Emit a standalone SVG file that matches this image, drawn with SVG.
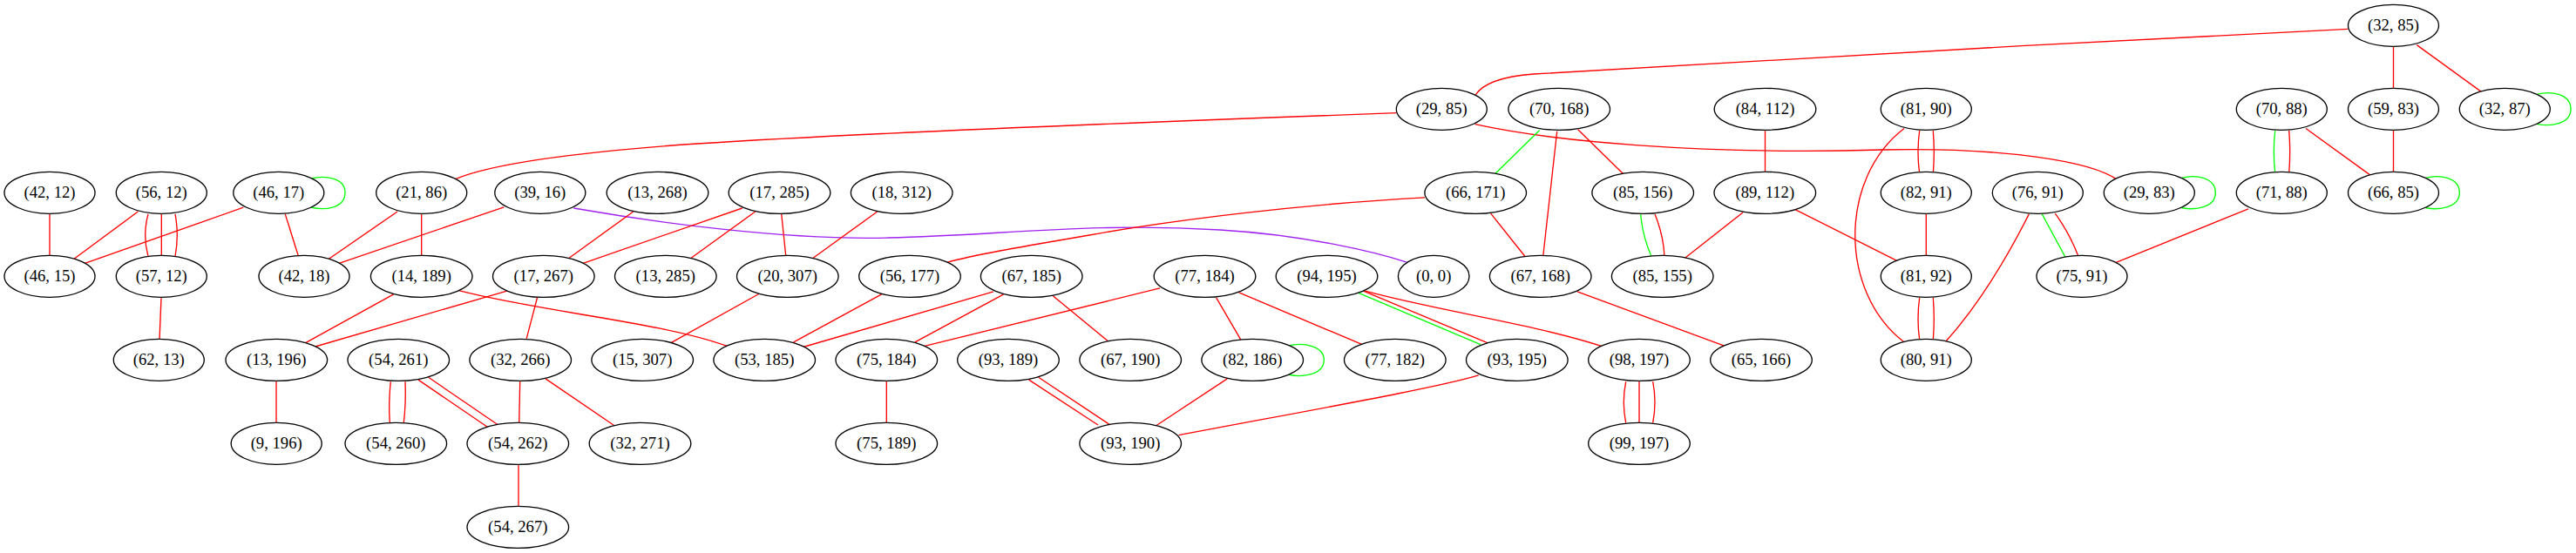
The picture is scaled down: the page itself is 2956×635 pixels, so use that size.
<svg xmlns="http://www.w3.org/2000/svg" width="2956" height="635" viewBox="0 0 2956 635">
<style>
.e path{fill:none;stroke-width:1.33}
.r{stroke:#ff0000}
.g{stroke:#00ff00}
.p{stroke:#a020f0}
.n ellipse{fill:#ffffff;stroke:#000000;stroke-width:1.33}
.n text{font-family:"Liberation Serif","Times New Roman",serif;font-size:18.67px;text-anchor:middle;fill:#000000}
</style>
<rect width="2956" height="635" fill="#ffffff"/>
<g id="edges" class="e">
<path class="r" d="M2694.3,33.4 C2400,48 1950,72 1760,85 C1720,88 1700,98 1692.7,109.5"/>
<path class="r" d="M2746.5,53.3 L2746.5,101.3"/>
<path class="r" d="M2773.3,51.6 L2847.3,105.4"/>
<path class="g" d="M2910.7,108.3 C2928,104 2950,108 2950,125.3 C2950,142 2928,146 2910.7,142.3"/>
<path class="r" d="M1602.3,129.7 C1400,137 1000,152 800,165 C650,175 560,190 523.3,205.4"/>
<path class="r" d="M1692.7,142.7 C1780,162 1950,178 2160,172 C2300,169 2400,185 2430,206.6"/>
<path class="g" d="M1766.7,149.6 L1715,200.2"/>
<path class="r" d="M1786.7,150.8 L1770.7,294.5"/>
<path class="r" d="M1810.7,148.7 L1863.3,200.2"/>
<path class="r" d="M2025.5,150 L2025.5,199.3"/>
<path class="r" d="M2202.7,150 Q2199.3,174.7 2202.7,199.3"/>
<path class="r" d="M2218.3,150 Q2220.3,174.7 2218.3,199.3"/>
<path class="r" d="M2185,147.5 C2110,205 2110,335 2185,392.8"/>
<path class="g" d="M2610.7,150 Q2607.9,174.3 2610.7,198.5"/>
<path class="r" d="M2626.7,150 Q2628.7,174.3 2626.7,198.5"/>
<path class="r" d="M2646,147.5 L2719.3,200.6"/>
<path class="r" d="M2746.5,149.3 L2746.5,197.3"/>
<path class="g" d="M2783.3,204.5 C2800,200 2822.3,204 2822.3,221.3 C2822.3,238 2800,242 2783.3,238.5"/>
<path class="g" d="M2503.3,204.5 C2520,200 2542.3,204 2542.3,221.3 C2542.3,238 2520,242 2503.3,238.5"/>
<path class="r" d="M456,243 L376.7,297.7"/>
<path class="r" d="M483.7,245.3 L483.7,293.3"/>
<path class="r" d="M578.3,237.8 L388.3,302.6"/>
<path class="p" d="M658.3,239 C750,255 900,276 1020,273 C1150,270 1250,255 1400,264 C1500,270 1580,290 1615,301.3"/>
<path class="r" d="M726.7,243 L651.7,297.3"/>
<path class="r" d="M851.7,239 L668.3,302.6"/>
<path class="r" d="M866.7,243 L791.7,297.3"/>
<path class="r" d="M896.7,245.3 L901.7,293.3"/>
<path class="r" d="M1006.7,243 L931.7,297.3"/>
<path class="r" d="M1635,226.9 C1500,234 1350,252 1250,270 C1180,282 1120,292 1086.7,301.3"/>
<path class="r" d="M1710.7,245.1 L1750,294.5"/>
<path class="g" d="M1882.7,245.9 Q1884.6,270.2 1895,294.5"/>
<path class="r" d="M1899,245.9 Q1908.9,270.2 1910,294.5"/>
<path class="r" d="M2000,243.9 L1933.3,296.5"/>
<path class="r" d="M2060,240.6 L2176.7,299.3"/>
<path class="r" d="M2210.3,245.3 L2210.3,293.3"/>
<path class="g" d="M2343.3,245.9 L2370,295.3"/>
<path class="r" d="M2358.3,245.1 Q2375,268 2385,294.5"/>
<path class="r" d="M2328.3,245.9 C2305,292 2275,345 2232.3,392.8"/>
<path class="r" d="M2580,239.8 L2428.3,301.3"/>
<path class="r" d="M57,245.3 L57,293.3"/>
<path class="r" d="M158.3,243 L85,297.3"/>
<path class="r" d="M185.3,245.3 L185.3,293.3"/>
<path class="r" d="M170,245.9 Q163.4,270 170,294.5"/>
<path class="r" d="M201,245.9 Q205.6,270 201,294.5"/>
<path class="r" d="M279.3,238.2 L96.7,302.6"/>
<path class="r" d="M327.3,245.9 L342.3,293.7"/>
<path class="g" d="M356.7,205 C373,201 396,204 396,221.3 C396,239 373,242 356.7,238"/>
<path class="r" d="M451.7,337.8 L350.7,393.6"/>
<path class="r" d="M526.7,333.7 C620,358 760,370 835,397.7"/>
<path class="r" d="M581.7,334.1 L360,398.5"/>
<path class="r" d="M616.7,341 L604,389.6"/>
<path class="r" d="M871.7,337 L770,393.6"/>
<path class="r" d="M1011.7,337.8 L910.7,392.8"/>
<path class="r" d="M1140,334.9 L921.7,398.5"/>
<path class="r" d="M1151.7,337.8 L1050,392.8"/>
<path class="r" d="M1208.3,339.8 L1272.7,392.8"/>
<path class="r" d="M1331,330.9 L1060,397.7"/>
<path class="r" d="M1395.7,341.8 L1424,390.4"/>
<path class="r" d="M1421.7,335.8 L1563.3,395.7"/>
<path class="g" d="M1558.3,336.2 L1699,395.7"/>
<path class="r" d="M1563.3,333.7 L1706.7,393.6"/>
<path class="r" d="M1565,333.7 C1640,355 1760,372 1838.3,397.7"/>
<path class="r" d="M1810,334.9 L1980,397.7"/>
<path class="r" d="M2202.7,341.8 Q2199.3,366 2202.7,390.4"/>
<path class="r" d="M2218.3,341.8 Q2220.3,366 2218.3,390.4"/>
<path class="r" d="M185,342.2 L183,390.4"/>
<path class="r" d="M317,437.3 L317,485.3"/>
<path class="r" d="M448.3,438.2 Q445.7,462 447.3,485.5"/>
<path class="r" d="M465,438.2 Q466,462 463.3,485.5"/>
<path class="r" d="M480,436.1 L560,490.8"/>
<path class="r" d="M491.7,433.3 L571.7,488"/>
<path class="r" d="M596.7,437.3 L595.7,485.3"/>
<path class="r" d="M626,434.9 L705,488.8"/>
<path class="r" d="M1017.3,437.3 L1017.3,485.3"/>
<path class="r" d="M1180.7,436.1 L1260,488"/>
<path class="r" d="M1191.7,433.3 L1274,488"/>
<path class="r" d="M1408.3,434.9 L1326.7,488.8"/>
<path class="g" d="M1478,397 C1496,393 1519.3,397 1519.3,413.3 C1519.3,430 1496,434 1478,430"/>
<path class="r" d="M1696.7,430.9 C1650,445 1520,468 1352.7,499.7"/>
<path class="r" d="M595,533.3 L595,581.3"/>
<path class="r" d="M1881,437.3 L1881,485.3"/>
<path class="r" d="M1865.7,438.2 Q1860.9,462 1865.7,485.5"/>
<path class="r" d="M1896.7,438.2 Q1901.3,462 1896.7,485.5"/>
</g>
<g id="n_32_85" class="n"><ellipse cx="2746.5" cy="29.3" rx="52" ry="24"/><text x="2746.5" y="35.3">(32, 85)</text></g>
<g id="n_29_85" class="n"><ellipse cx="1654.3" cy="125.3" rx="52" ry="24"/><text x="1654.3" y="131.3">(29, 85)</text></g>
<g id="n_70_168" class="n"><ellipse cx="1789.2" cy="125.3" rx="58.3" ry="24"/><text x="1789.2" y="131.3">(70, 168)</text></g>
<g id="n_84_112" class="n"><ellipse cx="2025.5" cy="125.3" rx="58.3" ry="24"/><text x="2025.5" y="131.3">(84, 112)</text></g>
<g id="n_81_90" class="n"><ellipse cx="2210.3" cy="125.3" rx="52" ry="24"/><text x="2210.3" y="131.3">(81, 90)</text></g>
<g id="n_70_88" class="n"><ellipse cx="2618.3" cy="125.3" rx="52" ry="24"/><text x="2618.3" y="131.3">(70, 88)</text></g>
<g id="n_59_83" class="n"><ellipse cx="2746.5" cy="125.3" rx="52" ry="24"/><text x="2746.5" y="131.3">(59, 83)</text></g>
<g id="n_32_87" class="n"><ellipse cx="2874.3" cy="125.3" rx="52" ry="24"/><text x="2874.3" y="131.3">(32, 87)</text></g>
<g id="n_42_12" class="n"><ellipse cx="57" cy="221.3" rx="52" ry="24"/><text x="57" y="227.3">(42, 12)</text></g>
<g id="n_56_12" class="n"><ellipse cx="185.3" cy="221.3" rx="52" ry="24"/><text x="185.3" y="227.3">(56, 12)</text></g>
<g id="n_46_17" class="n"><ellipse cx="319.8" cy="221.3" rx="52" ry="24"/><text x="319.8" y="227.3">(46, 17)</text></g>
<g id="n_21_86" class="n"><ellipse cx="483.7" cy="221.3" rx="52" ry="24"/><text x="483.7" y="227.3">(21, 86)</text></g>
<g id="n_39_16" class="n"><ellipse cx="619.8" cy="221.3" rx="52" ry="24"/><text x="619.8" y="227.3">(39, 16)</text></g>
<g id="n_13_268" class="n"><ellipse cx="754.5" cy="221.3" rx="58.3" ry="24"/><text x="754.5" y="227.3">(13, 268)</text></g>
<g id="n_17_285" class="n"><ellipse cx="894.5" cy="221.3" rx="58.3" ry="24"/><text x="894.5" y="227.3">(17, 285)</text></g>
<g id="n_18_312" class="n"><ellipse cx="1034.7" cy="221.3" rx="58.3" ry="24"/><text x="1034.7" y="227.3">(18, 312)</text></g>
<g id="n_66_171" class="n"><ellipse cx="1693.2" cy="221.3" rx="58.3" ry="24"/><text x="1693.2" y="227.3">(66, 171)</text></g>
<g id="n_85_156" class="n"><ellipse cx="1885.2" cy="221.3" rx="58.3" ry="24"/><text x="1885.2" y="227.3">(85, 156)</text></g>
<g id="n_89_112" class="n"><ellipse cx="2025.3" cy="221.3" rx="58.3" ry="24"/><text x="2025.3" y="227.3">(89, 112)</text></g>
<g id="n_82_91" class="n"><ellipse cx="2210.3" cy="221.3" rx="52" ry="24"/><text x="2210.3" y="227.3">(82, 91)</text></g>
<g id="n_76_91" class="n"><ellipse cx="2338.3" cy="221.3" rx="52" ry="24"/><text x="2338.3" y="227.3">(76, 91)</text></g>
<g id="n_29_83" class="n"><ellipse cx="2466.3" cy="221.3" rx="52" ry="24"/><text x="2466.3" y="227.3">(29, 83)</text></g>
<g id="n_71_88" class="n"><ellipse cx="2618.3" cy="221.3" rx="52" ry="24"/><text x="2618.3" y="227.3">(71, 88)</text></g>
<g id="n_66_85" class="n"><ellipse cx="2746.5" cy="221.3" rx="52" ry="24"/><text x="2746.5" y="227.3">(66, 85)</text></g>
<g id="n_46_15" class="n"><ellipse cx="57" cy="317.3" rx="52" ry="24"/><text x="57" y="323.3">(46, 15)</text></g>
<g id="n_57_12" class="n"><ellipse cx="185.3" cy="317.3" rx="52" ry="24"/><text x="185.3" y="323.3">(57, 12)</text></g>
<g id="n_42_18" class="n"><ellipse cx="349" cy="317.3" rx="52" ry="24"/><text x="349" y="323.3">(42, 18)</text></g>
<g id="n_14_189" class="n"><ellipse cx="483.7" cy="317.3" rx="58.3" ry="24"/><text x="483.7" y="323.3">(14, 189)</text></g>
<g id="n_17_267" class="n"><ellipse cx="623.8" cy="317.3" rx="58.3" ry="24"/><text x="623.8" y="323.3">(17, 267)</text></g>
<g id="n_13_285" class="n"><ellipse cx="763.8" cy="317.3" rx="58.3" ry="24"/><text x="763.8" y="323.3">(13, 285)</text></g>
<g id="n_20_307" class="n"><ellipse cx="903.8" cy="317.3" rx="58.3" ry="24"/><text x="903.8" y="323.3">(20, 307)</text></g>
<g id="n_56_177" class="n"><ellipse cx="1044" cy="317.3" rx="58.3" ry="24"/><text x="1044" y="323.3">(56, 177)</text></g>
<g id="n_67_185" class="n"><ellipse cx="1183.7" cy="317.3" rx="58.3" ry="24"/><text x="1183.7" y="323.3">(67, 185)</text></g>
<g id="n_77_184" class="n"><ellipse cx="1382.5" cy="317.3" rx="58.3" ry="24"/><text x="1382.5" y="323.3">(77, 184)</text></g>
<g id="n_94_195" class="n"><ellipse cx="1522.5" cy="317.3" rx="58.3" ry="24"/><text x="1522.5" y="323.3">(94, 195)</text></g>
<g id="n_0_0" class="n"><ellipse cx="1645.2" cy="317.3" rx="40.8" ry="24"/><text x="1645.2" y="323.3">(0, 0)</text></g>
<g id="n_67_168" class="n"><ellipse cx="1767.7" cy="317.3" rx="58.3" ry="24"/><text x="1767.7" y="323.3">(67, 168)</text></g>
<g id="n_85_155" class="n"><ellipse cx="1907.7" cy="317.3" rx="58.3" ry="24"/><text x="1907.7" y="323.3">(85, 155)</text></g>
<g id="n_81_92" class="n"><ellipse cx="2210.3" cy="317.3" rx="52" ry="24"/><text x="2210.3" y="323.3">(81, 92)</text></g>
<g id="n_75_91" class="n"><ellipse cx="2389" cy="317.3" rx="52" ry="24"/><text x="2389" y="323.3">(75, 91)</text></g>
<g id="n_62_13" class="n"><ellipse cx="182.3" cy="413.3" rx="52" ry="24"/><text x="182.3" y="419.3">(62, 13)</text></g>
<g id="n_13_196" class="n"><ellipse cx="317.3" cy="413.3" rx="58.3" ry="24"/><text x="317.3" y="419.3">(13, 196)</text></g>
<g id="n_54_261" class="n"><ellipse cx="457.3" cy="413.3" rx="58.3" ry="24"/><text x="457.3" y="419.3">(54, 261)</text></g>
<g id="n_32_266" class="n"><ellipse cx="597.2" cy="413.3" rx="58.3" ry="24"/><text x="597.2" y="419.3">(32, 266)</text></g>
<g id="n_15_307" class="n"><ellipse cx="737.2" cy="413.3" rx="58.3" ry="24"/><text x="737.2" y="419.3">(15, 307)</text></g>
<g id="n_53_185" class="n"><ellipse cx="877.2" cy="413.3" rx="58.3" ry="24"/><text x="877.2" y="419.3">(53, 185)</text></g>
<g id="n_75_184" class="n"><ellipse cx="1017.3" cy="413.3" rx="58.3" ry="24"/><text x="1017.3" y="419.3">(75, 184)</text></g>
<g id="n_93_189" class="n"><ellipse cx="1157" cy="413.3" rx="58.3" ry="24"/><text x="1157" y="419.3">(93, 189)</text></g>
<g id="n_67_190" class="n"><ellipse cx="1297.2" cy="413.3" rx="58.3" ry="24"/><text x="1297.2" y="419.3">(67, 190)</text></g>
<g id="n_82_186" class="n"><ellipse cx="1437.2" cy="413.3" rx="58.3" ry="24"/><text x="1437.2" y="419.3">(82, 186)</text></g>
<g id="n_77_182" class="n"><ellipse cx="1600.8" cy="413.3" rx="58.3" ry="24"/><text x="1600.8" y="419.3">(77, 182)</text></g>
<g id="n_93_195" class="n"><ellipse cx="1740.8" cy="413.3" rx="58.3" ry="24"/><text x="1740.8" y="419.3">(93, 195)</text></g>
<g id="n_98_197" class="n"><ellipse cx="1881" cy="413.3" rx="58.3" ry="24"/><text x="1881" y="419.3">(98, 197)</text></g>
<g id="n_65_166" class="n"><ellipse cx="2021" cy="413.3" rx="58.3" ry="24"/><text x="2021" y="419.3">(65, 166)</text></g>
<g id="n_80_91" class="n"><ellipse cx="2210.3" cy="413.3" rx="52" ry="24"/><text x="2210.3" y="419.3">(80, 91)</text></g>
<g id="n_9_196" class="n"><ellipse cx="317.2" cy="509.3" rx="52" ry="24"/><text x="317.2" y="515.3">(9, 196)</text></g>
<g id="n_54_260" class="n"><ellipse cx="454.3" cy="509.3" rx="58.3" ry="24"/><text x="454.3" y="515.3">(54, 260)</text></g>
<g id="n_54_262" class="n"><ellipse cx="594.3" cy="509.3" rx="58.3" ry="24"/><text x="594.3" y="515.3">(54, 262)</text></g>
<g id="n_32_271" class="n"><ellipse cx="734.5" cy="509.3" rx="58.3" ry="24"/><text x="734.5" y="515.3">(32, 271)</text></g>
<g id="n_75_189" class="n"><ellipse cx="1017.3" cy="509.3" rx="58.3" ry="24"/><text x="1017.3" y="515.3">(75, 189)</text></g>
<g id="n_93_190" class="n"><ellipse cx="1297.2" cy="509.3" rx="58.3" ry="24"/><text x="1297.2" y="515.3">(93, 190)</text></g>
<g id="n_99_197" class="n"><ellipse cx="1881" cy="509.3" rx="58.3" ry="24"/><text x="1881" y="515.3">(99, 197)</text></g>
<g id="n_54_267" class="n"><ellipse cx="594.3" cy="605.3" rx="58.3" ry="24"/><text x="594.3" y="611.3">(54, 267)</text></g>
</svg>
